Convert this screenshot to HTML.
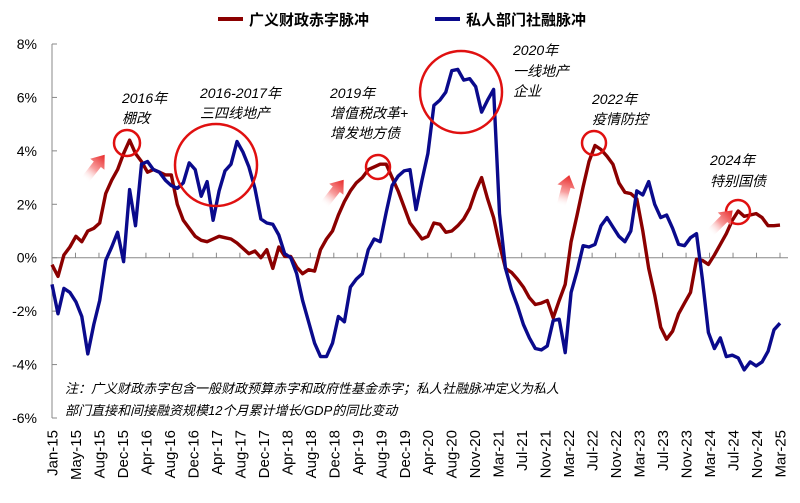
<!DOCTYPE html>
<html><head><meta charset="utf-8">
<style>
body{margin:0;background:#fff;}
svg{display:block;font-family:"Liberation Sans","Noto Sans CJK SC",sans-serif;}
.ann{font-style:italic;font-size:14px;fill:#000;}
</style></head>
<body>
<svg id="chart" width="800" height="503" viewBox="0 0 800 503" xmlns="http://www.w3.org/2000/svg">
<defs>
<linearGradient id="ag" x1="0" y1="1" x2="0" y2="0">
<stop offset="0" stop-color="#ffffff" stop-opacity="0"/>
<stop offset="0.45" stop-color="#f8a0a0"/>
<stop offset="1" stop-color="#e82828"/>
</linearGradient>
<path id="arrowShape" d="M-4.5,0 L-4.5,-20 L-9,-20 L0,-32 L9,-20 L4.5,-20 L4.5,0 Z"/>
</defs>
<g>
<line x1="218" y1="19" x2="243" y2="19" stroke="#8b0000" stroke-width="4"/>
<text x="249" y="25" font-size="15" font-weight="bold">广义财政赤字脉冲</text>
<line x1="435" y1="19" x2="460" y2="19" stroke="#0a0a8c" stroke-width="4"/>
<text x="466" y="25" font-size="15" font-weight="bold">私人部门社融脉冲</text>
</g>
<g id="axes"></g>
<g id="series"></g>
<g>
<text class="ann" x="122" y="103">2016年</text>
<text class="ann" x="122" y="123">棚改</text>
<text class="ann" x="200" y="98">2016-2017年</text>
<text class="ann" x="200" y="118">三四线地产</text>
<text class="ann" x="330" y="98">2019年</text>
<text class="ann" x="330" y="118">增值税改革+</text>
<text class="ann" x="330" y="138">增发地方债</text>
<text class="ann" x="513" y="55">2020年</text>
<text class="ann" x="513" y="76">一线地产</text>
<text class="ann" x="513" y="96">企业</text>
<text class="ann" x="592" y="104">2022年</text>
<text class="ann" x="592" y="124">疫情防控</text>
<text class="ann" x="710" y="165">2024年</text>
<text class="ann" x="710" y="186">特别国债</text>
<g fill="none" stroke="#e01010" stroke-width="2.5">
<circle cx="127" cy="143" r="13"/>
<circle cx="216" cy="165" r="41"/>
<circle cx="378" cy="167" r="12"/>
<circle cx="461" cy="92" r="41"/>
<circle cx="594" cy="143" r="12"/>
<circle cx="738" cy="212" r="12"/>
</g>
<g fill="url(#ag)">
<use href="#arrowShape" transform="translate(85,180) rotate(38)"/>
<use href="#arrowShape" transform="translate(324,205) rotate(38)"/>
<use href="#arrowShape" transform="translate(561,206) rotate(15)"/>
<use href="#arrowShape" transform="translate(710,233) rotate(45)"/>
</g>
</g>
<g>
<text class="ann" x="65" y="393" style="font-size:13px">注：广义财政赤字包含一般财政预算赤字和政府性基金赤字；私人社融脉冲定义为私人</text>
<text class="ann" x="65" y="415" style="font-size:13px">部门直接和间接融资规模12个月累计增长/GDP的同比变动</text>
</g>
</svg>
<script>
const xLabels=["Jan-15","May-15","Aug-15","Dec-15","Apr-16","Aug-16","Dec-16","Apr-17","Aug-17","Dec-17","Apr-18","Aug-18","Dec-18","Apr-19","Aug-19","Dec-19","Apr-20","Aug-20","Nov-20","Mar-21","Jul-21","Nov-21","Mar-22","Jul-22","Nov-22","Mar-23","Jul-23","Nov-23","Mar-24","Jul-24","Nov-24","Mar-25"];
const yTicks=[8,6,4,2,0,-2,-4,-6];
const fiscalImpulse=[-0.26,-0.7,0.1,0.4,0.8,0.6,1.0,1.1,1.3,2.4,2.9,3.3,3.9,4.4,3.9,3.6,3.2,3.3,3.2,3.1,3.1,2.0,1.4,1.1,0.8,0.65,0.6,0.7,0.8,0.75,0.7,0.55,0.35,0.15,0.25,0.0,0.3,-0.4,0.4,0.05,0.05,-0.35,-0.6,-0.45,-0.5,0.3,0.7,1.0,1.6,2.1,2.5,2.8,3.0,3.3,3.4,3.5,3.5,3.0,2.5,1.9,1.3,1.0,0.7,0.8,1.3,1.25,0.95,1.0,1.2,1.45,1.85,2.5,3.0,2.2,1.5,0.5,-0.4,-0.55,-0.8,-1.1,-1.5,-1.75,-1.7,-1.6,-2.25,-1.6,-1.0,0.6,1.6,2.65,3.6,4.2,4.05,3.8,3.5,2.8,2.45,2.4,2.2,1.0,-0.4,-1.4,-2.6,-3.05,-2.75,-2.1,-1.7,-1.3,-0.06,-0.1,-0.25,0.1,0.5,0.9,1.4,1.75,1.55,1.6,1.65,1.5,1.2,1.2,1.22];
const creditImpulse=[-1.0,-2.1,-1.15,-1.3,-1.65,-2.2,-3.6,-2.5,-1.6,-0.1,0.4,0.95,-0.15,2.55,1.2,3.5,3.6,3.3,3.2,2.9,2.7,2.6,2.8,3.55,3.3,2.3,2.85,1.4,2.5,3.25,3.5,4.35,3.95,3.4,2.6,1.45,1.3,1.25,0.85,0.15,0.0,-0.6,-1.6,-2.4,-3.2,-3.7,-3.7,-3.2,-2.2,-2.4,-1.1,-0.8,-0.6,0.3,0.7,0.6,1.7,2.7,3.05,3.25,3.3,1.8,2.9,3.9,5.7,5.9,6.2,7.0,7.05,6.65,6.7,6.4,5.45,5.9,6.3,1.65,-0.4,-1.2,-1.8,-2.5,-3.0,-3.4,-3.45,-3.3,-2.35,-2.3,-3.55,-1.3,-0.5,0.45,0.4,0.5,1.2,1.5,1.15,0.8,0.6,1.0,2.5,2.35,2.85,2.0,1.5,1.6,1.1,0.5,0.45,0.75,0.9,-0.8,-2.8,-3.4,-3.0,-3.7,-3.65,-3.75,-4.2,-3.9,-4.05,-3.9,-3.5,-2.7,-2.45];

const NS="http://www.w3.org/2000/svg";
const X0=52,X1=780,Y8=44,Yn6=418;
const nMonths=creditImpulse.length;
function xScale(i){return X0+i*(X1-X0)/(nMonths-1);}
function yScale(v){return Y8+(8-v)*(Yn6-Y8)/14;}
function lx(k){return X0+k*(X1-X0)/(xLabels.length-1);}
function mk(tag,attrs,parent){const e=document.createElementNS(NS,tag);for(const k in attrs)e.setAttribute(k,attrs[k]);parent.appendChild(e);return e;}
const axes=document.getElementById('axes');
let yl=mk('line',{x1:X0,y1:Y8,x2:X0,y2:Yn6,stroke:'#888','stroke-width':1},axes);


yTicks.forEach(v=>{
  const t=mk('line',{x1:X0,y1:yScale(v),x2:X0+5,y2:yScale(v),stroke:'#888'},axes);
  
  
  const tx=mk('text',{x:37,y:yScale(v)+5,'text-anchor':'end','font-size':14},axes);
  tx.textContent=v+'%';
  
  
});
let xl=mk('line',{x1:X0,y1:yScale(0),x2:X1+8,y2:yScale(0),stroke:'#888','stroke-width':1},axes);


xLabels.forEach((s,k)=>{
  const x=lx(k);
  const t=mk('line',{x1:x,y1:yScale(0)-5,x2:x,y2:yScale(0),stroke:'#888'},axes);
  
  
  const tx=mk('text',{x:0,y:0,'text-anchor':'end','font-size':15,transform:`translate(${x+5.5},430) rotate(-90)`},axes);
  tx.textContent=s;
  
  
});
const ser=document.getElementById('series');
function path(arr){return arr.map((v,i)=>(i?'L':'M')+xScale(i).toFixed(1)+','+yScale(v).toFixed(1)).join('');}
const pf=mk('path',{d:path(fiscalImpulse),fill:'none',stroke:'#8b0000','stroke-width':3.4,'stroke-linejoin':'round'},ser);


const pc=mk('path',{d:path(creditImpulse),fill:'none',stroke:'#0a0a8c','stroke-width':3.4,'stroke-linejoin':'round'},ser);


</script>
</body></html>
